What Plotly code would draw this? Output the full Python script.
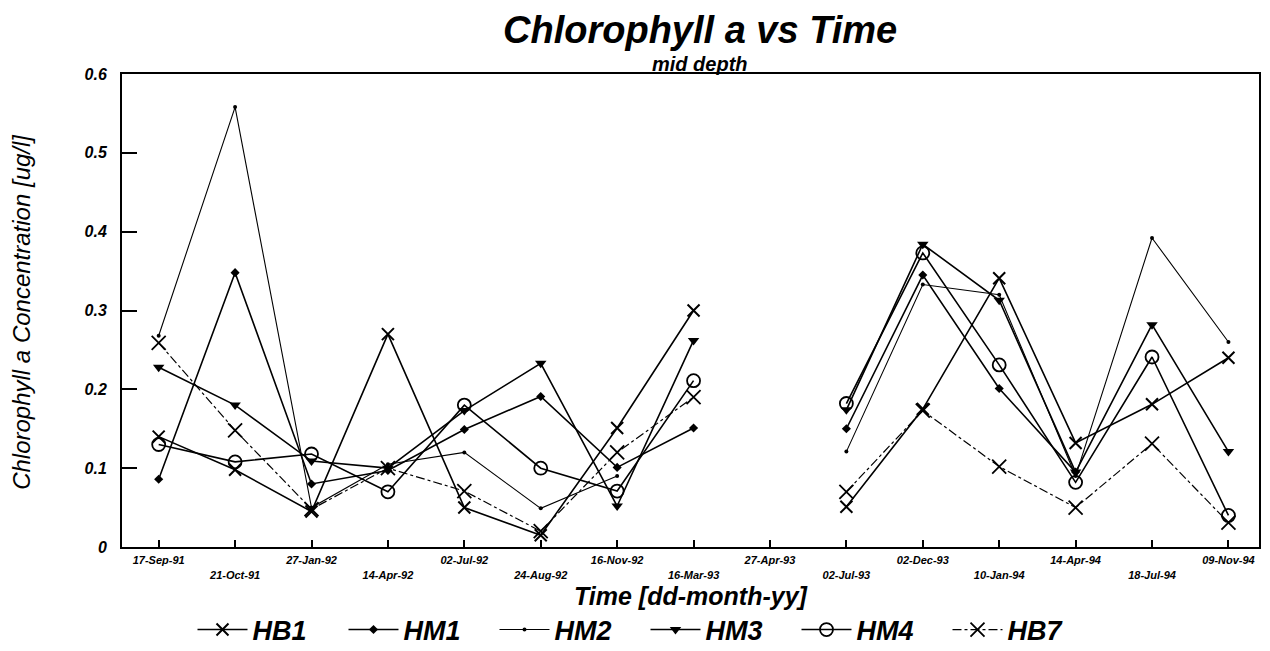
import plotly.graph_objects as go

dates = ["17-Sep-91", "21-Oct-91", "27-Jan-92", "14-Apr-92", "02-Jul-92", "24-Aug-92",
         "16-Nov-92", "16-Mar-93", "27-Apr-93", "02-Jul-93", "02-Dec-93", "10-Jan-94",
         "14-Apr-94", "18-Jul-94", "09-Nov-94"]

HB1 = [0.14, 0.098, 0.045, 0.27, 0.05, 0.015, 0.151, 0.30, None, 0.051, 0.175, 0.341, 0.132, 0.181, 0.24]
HM1 = [0.086, 0.348, 0.080, 0.097, 0.149, 0.191, 0.101, 0.151, None, 0.150, 0.345, 0.201, 0.095, None, None]
HM2 = [0.268, 0.558, 0.05, 0.105, 0.120, 0.049, 0.09, None, None, 0.121, 0.333, 0.320, 0.09, 0.392, 0.260]
HM3 = [0.228, 0.180, 0.109, 0.10, 0.173, 0.233, 0.052, 0.262, None, 0.174, 0.384, 0.313, 0.095, 0.282, 0.121]
HM4 = [0.130, 0.108, 0.118, 0.070, 0.180, 0.100, 0.071, 0.211, None, 0.182, 0.373, 0.231, 0.082, 0.241, 0.040]
HB7 = [0.259, 0.148, 0.048, 0.10, 0.071, 0.02, 0.12, 0.19, None, 0.07, 0.173, 0.102, 0.05, 0.131, 0.031]

y_ticks = [0, 0.1, 0.2, 0.3, 0.4, 0.5, 0.6]
y_ticktext = ["0", "0.1", "0.2", "0.3", "0.4", "0.5", "0.6"]

title_text = "Chlorophyll a vs Time"
subtitle_text = "mid depth"
x_title = "Time [dd-month-yy]"
y_title = "Chlorophyll a Concentration [ug/l]"

FONT = "Liberation Sans, Arial, sans-serif"

series = [
    ("HB1", HB1, dict(symbol="x-thin-open", size=12, line=dict(width=2, color="black")), dict(width=1.6, dash="solid")),
    ("HM1", HM1, dict(symbol="diamond", size=7, color="black"), dict(width=1.6, dash="solid")),
    ("HM2", HM2, dict(symbol="circle", size=4, color="black"), dict(width=1.1, dash="solid")),
    ("HM3", HM3, dict(symbol="triangle-down", size=10, color="black"), dict(width=1.6, dash="solid")),
    ("HM4", HM4, dict(symbol="circle-open", size=13, line=dict(width=1.8, color="black")), dict(width=1.6, dash="solid")),
    ("HB7", HB7, dict(symbol="x-thin-open", size=14, line=dict(width=1.8, color="black")), dict(width=1.2, dash="dashdot")),
]

fig = go.Figure()
for name, vals, marker, line in series:
    fig.add_trace(go.Scatter(
        x=dates, y=vals, name=name, mode="lines+markers",
        marker=marker, line=dict(color="black", **line),
        connectgaps=False,
    ))

ticktext = [d if i % 2 == 0 else "<br>" + d for i, d in enumerate(dates)]

bi = dict(family=FONT, weight="bold", style="italic", color="black")

fig.update_layout(
    width=1270, height=651,
    paper_bgcolor="white", plot_bgcolor="white",
    margin=dict(l=114, r=19, t=66, b=112, autoexpand=False),
    font=dict(family=FONT, color="black"),
    xaxis=dict(
        type="category", categoryorder="array", categoryarray=dates,
        range=[-0.48, 14.4],
        tickmode="array", tickvals=dates, ticktext=ticktext,
        tickfont=dict(size=11, **bi),
        ticks="inside", ticklen=7, tickwidth=1.5, tickcolor="black",
        ticklabelstandoff=2,
        showline=True, linecolor="black", linewidth=2, mirror=True,
        showgrid=False, zeroline=False,
    ),
    yaxis=dict(
        range=[0, 0.6],
        tickmode="array", tickvals=y_ticks, ticktext=y_ticktext,
        tickfont=dict(size=16, **bi),
        ticks="inside", ticklen=15, tickwidth=1.5, tickcolor="black",
        ticklabelstandoff=10,
        showline=True, linecolor="black", linewidth=2, mirror=True,
        showgrid=False, zeroline=False,
    ),
    legend=dict(
        orientation="h", x=0.062, xanchor="left", y=-0.1755, yanchor="middle",
        font=dict(size=27, **bi),
        itemwidth=50, entrywidth=86, entrywidthmode="pixels",
        bgcolor="rgba(0,0,0,0)",
    ),
    showlegend=True,
    annotations=[
        dict(text=title_text, xref="paper", yref="paper", x=0.508, y=1.1395,
             xanchor="center", yanchor="top", showarrow=False, borderpad=0,
             font=dict(size=38, **bi)),
        dict(text=subtitle_text, xref="paper", yref="paper", x=0.508, y=1.0211,
             xanchor="center", yanchor="middle", showarrow=False, borderpad=0,
             font=dict(size=20, **bi)),
        dict(text=x_title, xref="paper", yref="paper", x=0.501, y=-0.1036,
             xanchor="center", yanchor="middle", showarrow=False,
             font=dict(size=25, **bi)),
        dict(text=y_title, xref="paper", yref="paper", x=-0.088, y=0.497,
             xanchor="center", yanchor="middle", showarrow=False, textangle=-90,
             font=dict(size=24, family=FONT, style="italic", color="black")),
    ],
)

fig.write_html("out.html")
